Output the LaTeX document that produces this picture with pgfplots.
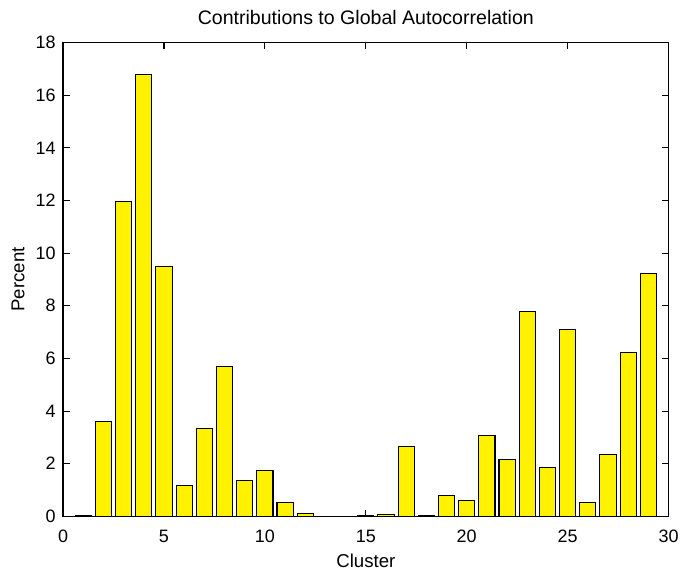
\documentclass[border=0pt]{standalone}
\usepackage{fontspec}
\setmainfont{Liberation Sans}
\usepackage{pgfplots}
\pgfplotsset{compat=1.18}

\begin{document}
\begin{tikzpicture}
\begin{axis}[
    scale only axis,
    width=455pt,
    height=356pt,
    ybar,
    bar width=0.8,
    bar shift=0pt,
    xmin=0, xmax=30,
    ymin=0, ymax=18,
    xtick={0,5,...,30},
    ytick={0,2,...,18},
    tick align=inside,
    major tick length=5pt,
    tick style={black, line width=0.8pt},
    axis line style={line width=0.9pt},
    title={Contributions to Global Autocorrelation},
    xlabel={Cluster},
    ylabel={Percent},
    label style={font=\fontsize{14}{16}\selectfont},
    title style={font=\fontsize{14.7}{16}\selectfont, yshift=4pt, text height=15pt},
    /pgf/number format/assume math mode=true,
    ticklabel style={font=\fontsize{13.5}{15}\selectfont},
    xticklabel style={yshift=-7pt},
    yticklabel style={xshift=-2pt},
    xlabel style={yshift=-1pt},
    ylabel style={yshift=1.5pt, text height=15pt},
]
\addplot[fill=yellow, draw=black, line width=0.8pt] coordinates {
    (1,0.05) (2,3.6) (3,11.97) (4,16.78) (5,9.51) (6,1.18) (7,3.34)
    (8,5.68) (9,1.35) (10,1.73) (11,0.54) (12,0.12) (13,0.0) (14,0.0)
    (15,0.03) (16,0.08) (17,2.65) (18,0.05) (19,0.8) (20,0.62)
    (21,3.08) (22,2.15) (23,7.8) (24,1.86) (25,7.09) (26,0.52)
    (27,2.35) (28,6.21) (29,9.21)
};
\end{axis}
\end{tikzpicture}
\end{document}
